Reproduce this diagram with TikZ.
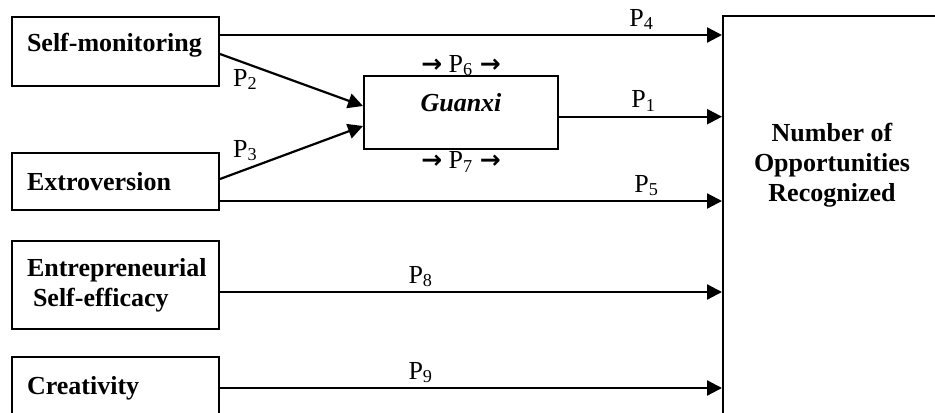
\documentclass[tikz,border=0pt]{standalone}
\usepackage{fontspec}
\setmainfont{Liberation Serif}
\newfontfamily\arrowfont{DejaVu Sans}
\usetikzlibrary{arrows.meta, positioning}
\newcommand{\rarr}{{\arrowfont\bfseries\fontsize{12.5}{14}\selectfont →}}

\begin{document}
\begin{tikzpicture}[x=0.5pt, y=-0.5pt,
  box/.style={draw, line width=1pt, font=\bfseries\fontsize{13}{15}\selectfont},
  lbox/.style={box, anchor=north west, inner sep=0pt, minimum width=103.5pt, text width=88.5pt, align=left,
    execute at begin node={\hyphenpenalty=10000 \exhyphenpenalty=10000 }},
  arr/.style={line width=1.1pt, -{Triangle[length=7.5pt, width=7.5pt]}},
  dlab/.style={font=\fontsize{13}{15}\selectfont, inner sep=0pt, anchor=base, yshift=4.5pt},
  plab/.style={font=\fontsize{13}{15}\selectfont, inner sep=0pt}]
\useasboundingbox (0,0) rectangle (935,412);
\clip (0,0) rectangle (935,412);
% Predictors
\node[lbox, minimum height=34.5pt, text depth=9.5pt] (sm) at (11,16) {Self-monitoring};
\node[lbox, minimum height=28.5pt] (ex) at (11,152) {Extroversion};
\node[lbox, minimum height=44pt] (ese) at (11,240) {Entrepreneurial\\\hspace*{3pt}Self-efficacy};
\node[lbox, minimum height=31pt] (cr) at (11,356) {Creativity};
% Mediator
\node[box, anchor=north west, inner sep=0pt, minimum width=97pt, minimum height=36.5pt, text depth=10.5pt] (gx) at (363,75) {\itshape Guanxi};
% Outcome
\node[box, anchor=north west, minimum width=112pt, minimum height=210pt] (nor) at (722,15) {};
\node[font=\bfseries\fontsize{13}{15}\selectfont, align=center] (norlbl) at (832,165) {Number of\\Opportunities\\Recognized};
% Direct paths
\foreach \src/\dy/\p/\ps in {sm/8.25/4/0.84, gx/-2.1/1/0.52, ex/-9.75/5/0.85, ese/-3.5/8/0.4, cr/0/9/0.4}
  \draw[arr] ([yshift=\dy pt]\src.east) -- ([yshift=\dy pt]\src.east -| nor.west)
    node[dlab, pos=\ps] (l\p) {P\textsubscript{\p}};
% Paths into Guanxi
\draw[arr] ([yshift=-1.25pt]sm.east) -- ([yshift=3.25pt]gx.west)
  node[plab, pos=0, anchor=base west, xshift=6pt, yshift=-16pt] (l2) {P\textsubscript{2}};
\draw[arr] ([yshift=1.25pt]ex.east) -- ([yshift=-6.75pt]gx.west)
  node[plab, pos=0, anchor=base west, xshift=6pt, yshift=11pt] (l3) {P\textsubscript{3}};
% Mediation labels
\node[plab, anchor=base] (l6) at ([yshift=1.5pt]gx.north) {\rarr\ P\textsubscript{6} \rarr};
\node[plab, anchor=base] (l7) at ([yshift=-9.35pt]gx.south) {\rarr\ P\textsubscript{7} \rarr};
\end{tikzpicture}
\end{document}
